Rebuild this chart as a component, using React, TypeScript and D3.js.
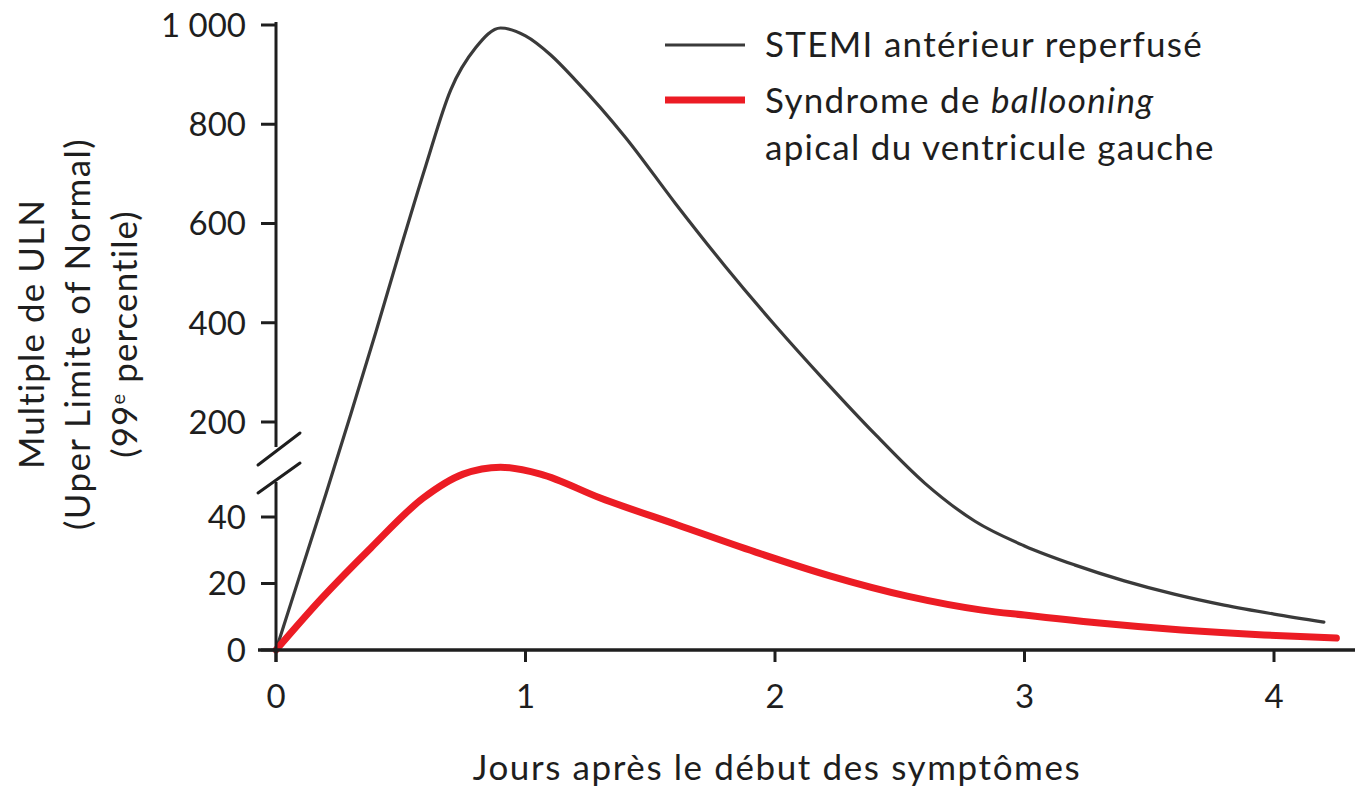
import React from "react";
import * as d3 from "d3";

const stemiDays = [0, 0.1, 0.2, 0.3, 0.4, 0.5, 0.6, 0.7, 0.8, 0.9, 1.0, 1.1, 1.2, 1.4, 1.6, 1.8, 2.0, 2.2, 2.4, 2.6, 2.8, 3.0, 3.2, 3.4, 3.6, 3.8, 4.0, 4.2];
const stemiValues = [0, 23.5, 46.9, 216, 381, 551, 716, 869, 954, 994, 978, 940, 889, 774, 641, 514, 395, 283, 176, 50.2, 38.8, 31.3, 25.6, 20.8, 16.8, 13.5, 10.8, 8.4];

const takoDays = [0, 0.18, 0.38, 0.59, 0.75, 0.9, 1.06, 1.3, 1.61, 1.92, 2.22, 2.53, 2.83, 3.0, 3.3, 3.63, 3.96, 4.25];
const takoValues = [0, 15.3, 30.7, 45.7, 52.9, 55, 52.9, 45.7, 37.6, 29.5, 22.3, 16.2, 12, 10.5, 8.1, 6.0, 4.5, 3.6];

const xTicks = [0, 1, 2, 3, 4];
const xTickLabels = ["0", "1", "2", "3", "4"];
const yTicksLower = [0, 20, 40];
const yTicksUpper = [200, 400, 600, 800, 1000];
const yTickLabels: Record<number, string> = { 0: "0", 20: "20", 40: "40", 200: "200", 400: "400", 600: "600", 800: "800", 1000: "1 000" };

const legendLabels = ["STEMI antérieur reperfusé", "Syndrome de ", "ballooning", "apical du ventricule gauche"];
const yTitleLines = ["Multiple de ULN", "(Uper Limite of Normal)"];
const xTitle = "Jours après le début des symptômes";

const FONT = "Lato, 'Open Sans', sans-serif";
const INK = "#1e1e1e";

export default function App() {
  const x = d3.scaleLinear().domain([0, 4]).range([276, 1274]);
  const y = d3.scaleLinear().domain([0, 60, 150, 1000]).range([650, 450.5, 446.8, 25]);

  const line = d3
    .line<[number, number]>()
    .x((d) => x(d[0]))
    .y((d) => y(d[1]))
    .curve(d3.curveMonotoneX);

  const stemiPath = line(stemiDays.map((d, i) => [d, stemiValues[i]] as [number, number])) || "";
  const takoPath = line(takoDays.map((d, i) => [d, takoValues[i]] as [number, number])) || "";

  const ax = x(0);
  const breakTop = 447;
  const breakBottom = 482;

  return (
    <svg width={1355} height={788} style={{ display: "block", position: "absolute", left: 0, top: 0, background: "#fff" }} fontFamily={FONT}>
      {/* curves */}
      <path d={stemiPath} fill="none" stroke="#3a3a3a" strokeWidth={3.2} strokeLinecap="round" />
      <path d={takoPath} fill="none" stroke="#ec1c24" strokeWidth={7} strokeLinecap="round" />

      {/* y axis upper segment */}
      <line x1={ax} x2={ax} y1={y(1000) - 3} y2={breakTop} stroke={INK} strokeWidth={3} />
      {/* y axis lower segment */}
      <line x1={ax} x2={ax} y1={breakBottom} y2={662} stroke={INK} strokeWidth={3} />
      {/* break marks */}
      <line x1={258} y1={465} x2={300} y2={433} stroke={INK} strokeWidth={3} strokeLinecap="round" />
      <line x1={258} y1={493} x2={300} y2={463} stroke={INK} strokeWidth={3} strokeLinecap="round" />

      {/* x axis */}
      <line x1={258} x2={1355} y1={y(0)} y2={y(0)} stroke={INK} strokeWidth={3.5} />

      {/* y ticks */}
      {[...yTicksLower, ...yTicksUpper].map((t) => (
        <g key={"yt" + t}>
          <line x1={ax - 15} x2={ax} y1={y(t)} y2={y(t)} stroke={INK} strokeWidth={3} />
          <text x={246} y={y(t)} dy="0.36em" textAnchor="end" fontSize={33} fill={INK}>
            {yTickLabels[t]}
          </text>
        </g>
      ))}

      {/* x ticks */}
      {xTicks.map((t, i) => (
        <g key={"xt" + t}>
          <line x1={x(t)} x2={x(t)} y1={y(0)} y2={y(0) + 12} stroke={INK} strokeWidth={3} />
          <text x={x(t)} y={708} textAnchor="middle" fontSize={33} fill={INK}>
            {xTickLabels[i]}
          </text>
        </g>
      ))}

      {/* x title */}
      <text x={777} y={780} textAnchor="middle" fontSize={35} letterSpacing={1.6} fill={INK}>
        {xTitle}
      </text>

      {/* y title */}
      <text transform="translate(44,334) rotate(-90)" textAnchor="middle" fontSize={35} letterSpacing={1.1} fill={INK}>
        {yTitleLines[0]}
      </text>
      <text transform="translate(90,334) rotate(-90)" textAnchor="middle" fontSize={35} letterSpacing={1.4} fill={INK}>
        {yTitleLines[1]}
      </text>
      <text transform="translate(137,334) rotate(-90)" textAnchor="middle" fontSize={35} letterSpacing={1.1} fill={INK}>
        <tspan>(99</tspan>
        <tspan fontSize={20} dy={-12}>e</tspan>
        <tspan dy={12}> percentile)</tspan>
      </text>

      {/* legend */}
      <line x1={665} x2={745} y1={45} y2={45} stroke="#3a3a3a" strokeWidth={3.2} />
      <text x={765} y={57} fontSize={35} letterSpacing={1.3} fill={INK}>
        {legendLabels[0]}
      </text>
      <line x1={665} x2={745} y1={100} y2={100} stroke="#ec1c24" strokeWidth={7} />
      <text x={765} y={113} fontSize={35} letterSpacing={1.3} fill={INK}>
        {legendLabels[1]}
        <tspan fontStyle="italic">{legendLabels[2]}</tspan>
      </text>
      <text x={765} y={160} fontSize={35} letterSpacing={1.3} fill={INK}>
        {legendLabels[3]}
      </text>
    </svg>
  );
}
